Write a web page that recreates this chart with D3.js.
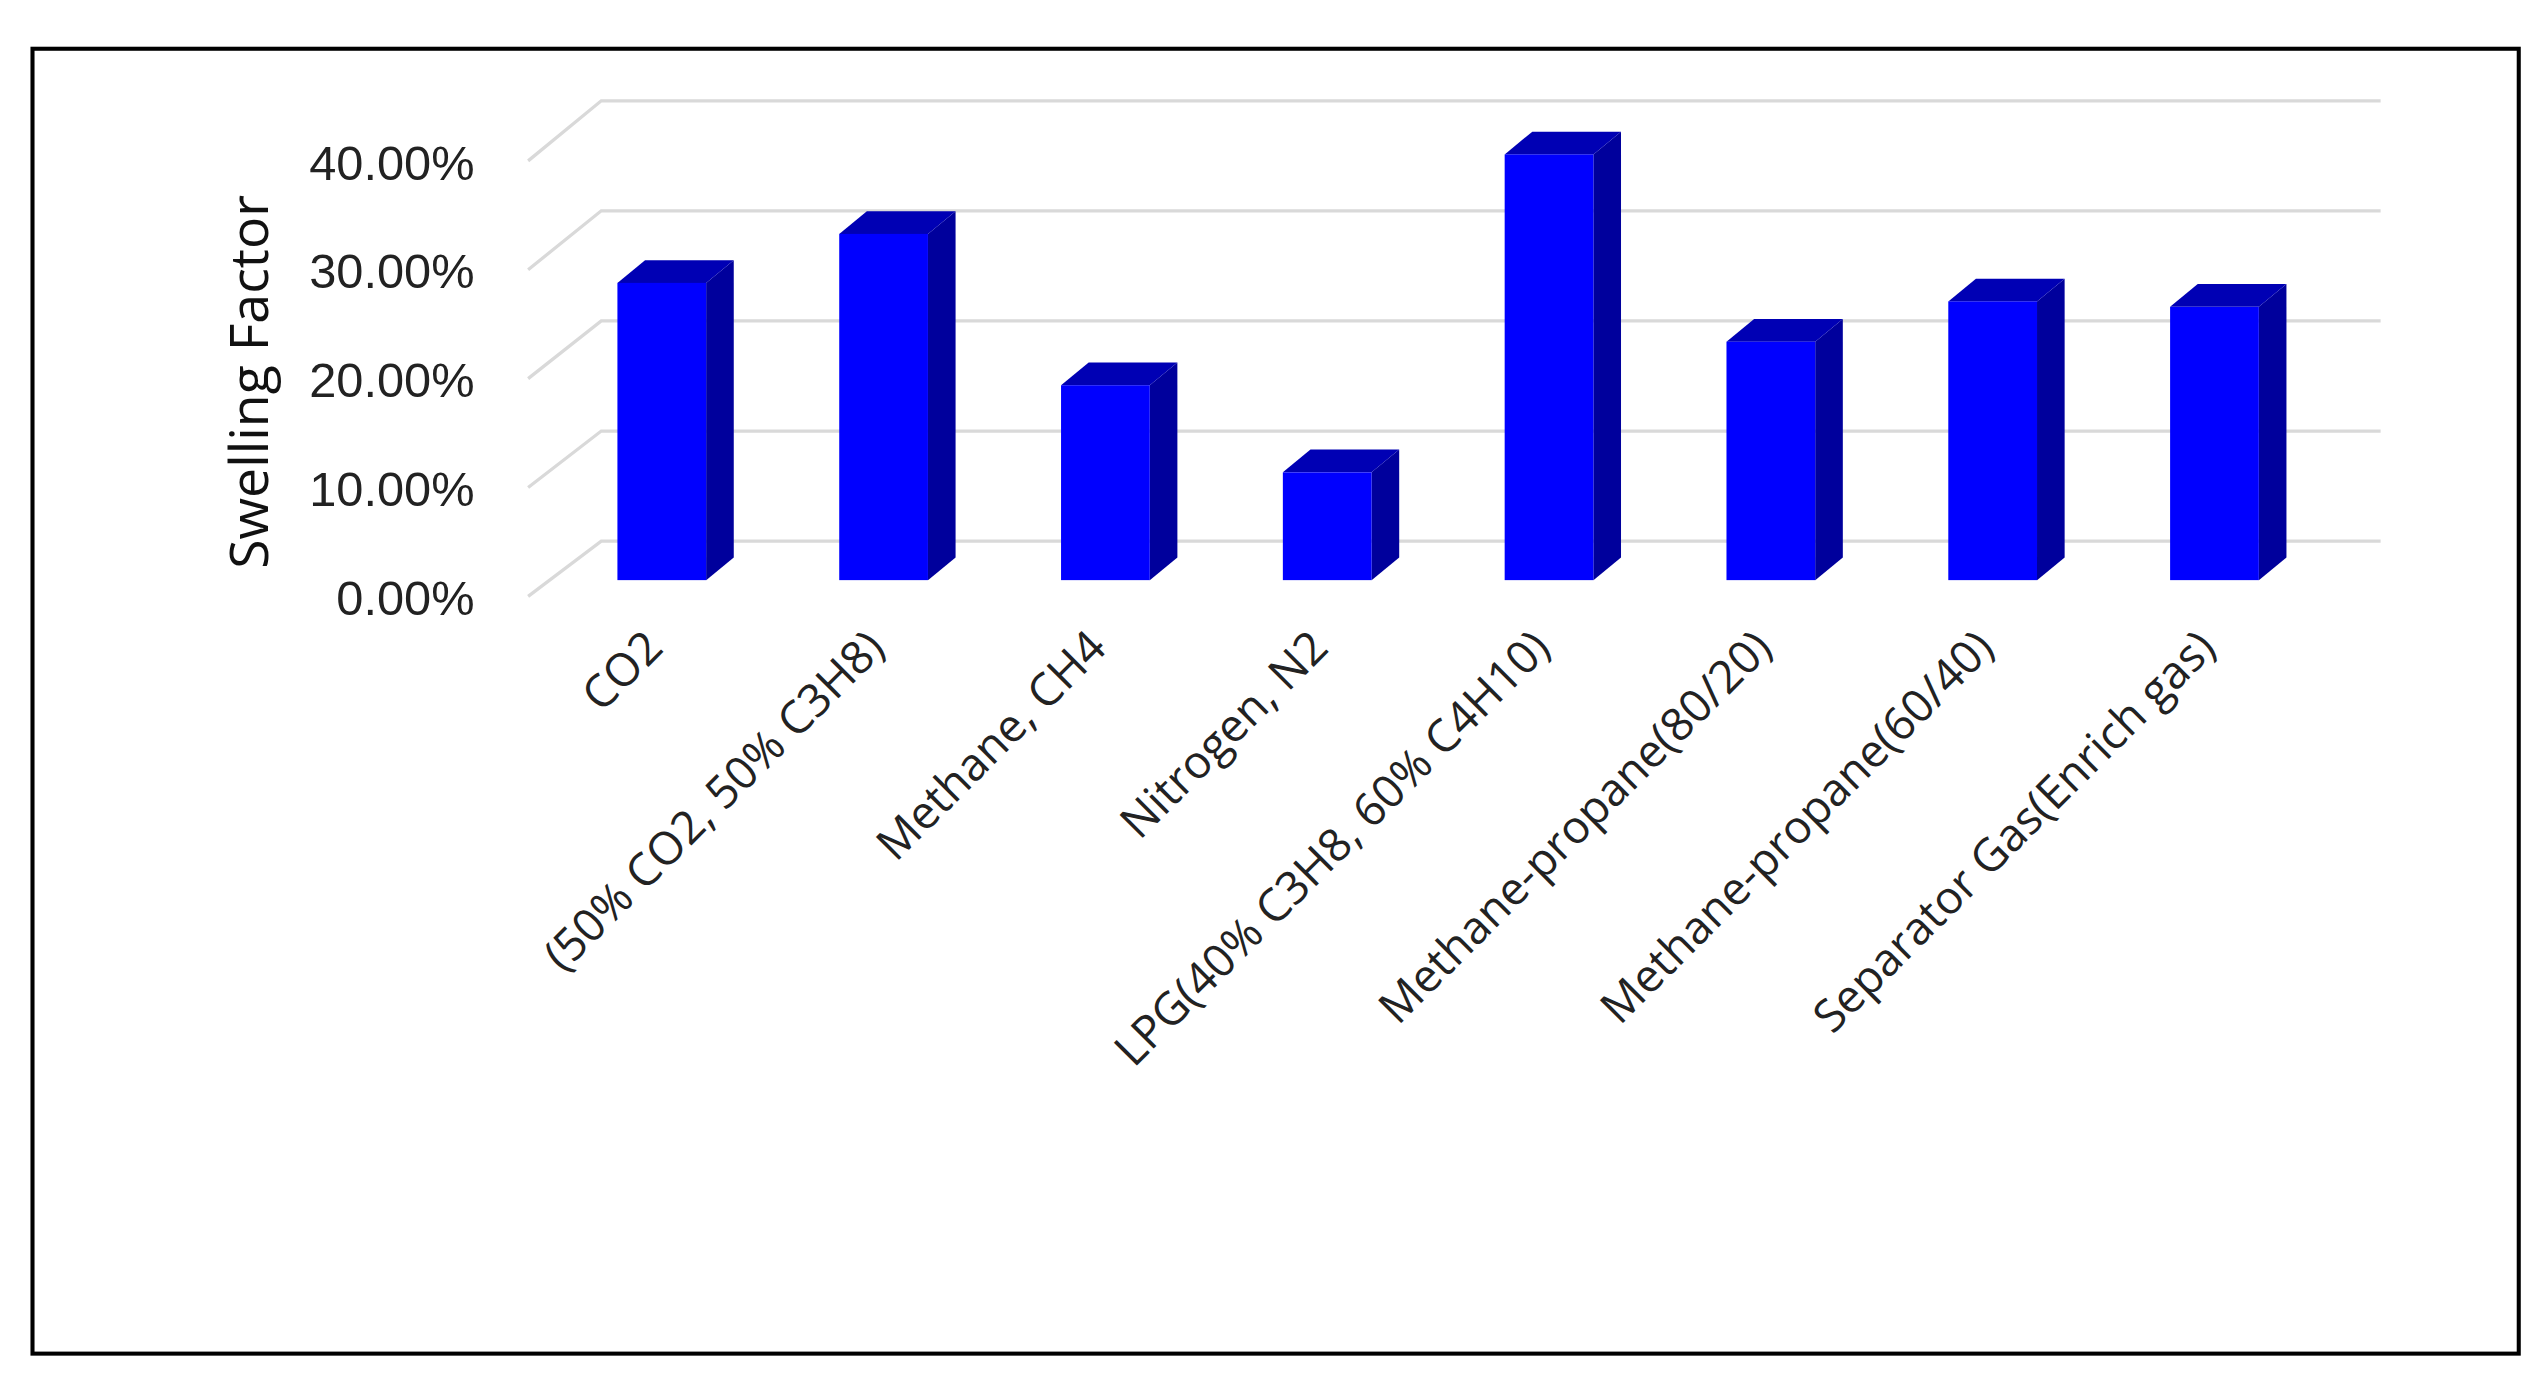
<!DOCTYPE html>
<html><head><meta charset="utf-8">
<script src="https://cdn.jsdelivr.net/npm/d3@7"></script>
<style>body{margin:0;background:#fff}</style></head>
<body><svg id="c" width="2548" height="1391"></svg>
<script>
const categories = ["CO2","(50% CO2, 50% C3H8)","Methane, CH4","Nitrogen, N2","LPG(40% C3H8, 60% C4H10)","Methane-propane(80/20)","Methane-propane(60/40)","Separator Gas(Enrich gas)"];
const values = [0.273, 0.318, 0.179, 0.099, 0.391, 0.219, 0.256, 0.251];
const ticks = [0, 0.1, 0.2, 0.3, 0.4];

const svg = d3.select("#c");
const g = svg.append("g").attr("transform","scale(1.625)");
g.append("rect").attr("x",20).attr("y",30).attr("width",1530).attr("height",803)
 .attr("fill","none").attr("stroke","#000").attr("stroke-width",2.5);

const yFront = d3.scaleLinear().domain([0,0.4]).range([368,100]);
const yBar = d3.scaleLinear().domain([0,0.4]).range([357,89]);
const yBack = d3.scaleLinear().domain([0,0.4]).range([333,62]);
const x = d3.scaleBand().domain(categories).range([339,1431]).paddingInner(0.6).paddingOuter(0.3);

ticks.forEach(t=>{
  g.append("path").attr("d",`M325,${yFront(t)-1}L370,${yBack(t)}L1465,${yBack(t)}`)
   .attr("fill","none").attr("stroke","#d9d9d9").attr("stroke-width",2);
  g.append("text").attr("x",292).attr("y",yFront(t)).attr("dy","0.35em").attr("text-anchor","end")
   .attr("font-family","Liberation Sans Narrow, Arial Narrow, sans-serif").attr("font-size",30).attr("fill","#222")
   .text(d3.format(".2%")(t));
});

const dx=17, dy=14;
const bars = g.selectAll(".b").data(categories.map((c,i)=>({c,v:values[i]}))).enter().append("g");
bars.each(function(d){
  const s=d3.select(this), x0=x(d.c), w=x.bandwidth(), y0=yBar(0), y1=yBar(d.v);
  s.append("path").attr("d",`M${x0+w},${y1}L${x0+w+dx},${y1-dy}L${x0+w+dx},${y0-dy}L${x0+w},${y0}Z`).attr("fill","#00009c");
  s.append("path").attr("d",`M${x0},${y1}L${x0+dx},${y1-dy}L${x0+w+dx},${y1-dy}L${x0+w},${y1}Z`).attr("fill","#0000b4");
  s.append("rect").attr("x",x0).attr("y",y1).attr("width",w).attr("height",y0-y1).attr("fill","#0000ff");
  s.append("text").attr("transform",`translate(${x0+w/2+2},${400}) rotate(-45)`)
   .attr("text-anchor","end").attr("font-family","Open Sans, sans-serif").attr("font-size",28).attr("fill","#222")
   .text(d.c);
});

g.append("text").attr("transform","translate(165,235) rotate(-90)").attr("text-anchor","middle")
 .attr("font-family","Open Sans, sans-serif").attr("font-size",33).attr("fill","#111").text("Swelling Factor");
</script></body></html>
